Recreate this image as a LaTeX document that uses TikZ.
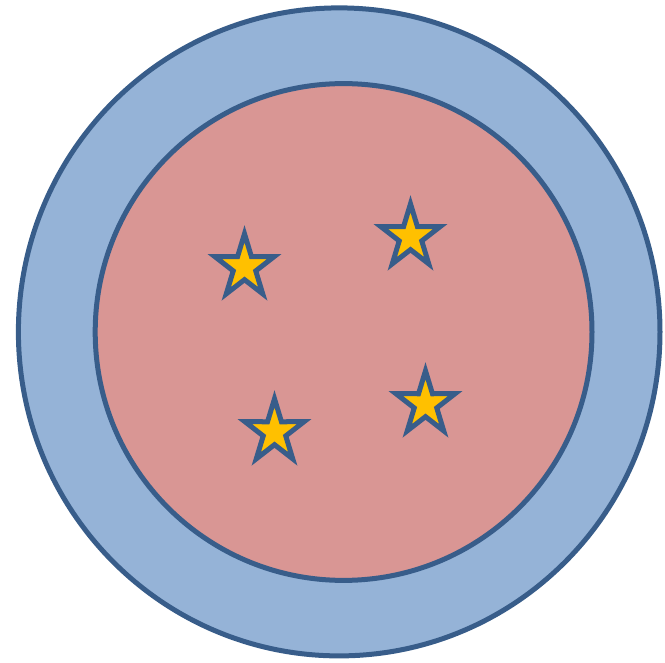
\documentclass[tikz,border=0pt]{standalone}
\definecolor{outerfill}{HTML}{95B3D7}
\definecolor{innerfill}{HTML}{D99694}
\definecolor{edgeblue}{HTML}{385D8A}
\definecolor{staryellow}{HTML}{FFC000}
\tikzset{
  ring/.style={draw=edgeblue, line width=5pt},
  starshape/.style={draw=edgeblue, fill=staryellow, line width=5pt, line join=miter}
}
\newcommand\drawmystar[2]{%
  \draw[starshape, shift={(#1,#2)}, yscale=-1.07]
    (90:31) -- (126:11.84) -- (162:31) -- (198:11.84) -- (234:31) -- (270:11.84)
    -- (306:31) -- (342:11.84) -- (18:31) -- (54:11.84) -- cycle;}
\begin{document}
\begin{tikzpicture}[x=1pt,y=-1pt]
  \useasboundingbox (0,0) rectangle (665,663);
  \draw[ring, fill=outerfill] (339.2,331.9) ellipse [x radius=320.8, y radius=324];
  \draw[ring, fill=innerfill] (343.6,332) circle [radius=248.4];
  \drawmystar{244.5}{267}
  \drawmystar{410.5}{237}
  \drawmystar{274.5}{432}
  \drawmystar{425.5}{404}
\end{tikzpicture}
\end{document}
